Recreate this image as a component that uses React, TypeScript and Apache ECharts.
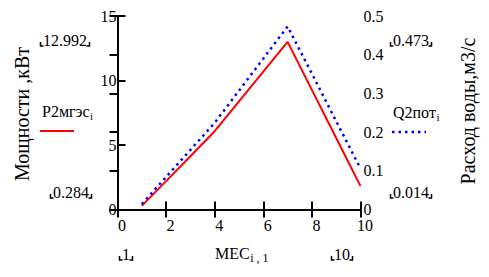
import React, { useEffect, useRef } from "react";
import * as echarts from "echarts";

// Data (month index, power of small HPP in kW, water flow in m3/s)
const MEC = [1, 2, 3, 4, 5, 6, 7, 8, 9, 10];
const P2MGES = [0.284, 2.2, 4.13, 6.07, 8.38, 10.69, 12.992, 9.27, 5.54, 1.81];
const Q2POT = [0.014, 0.084, 0.154, 0.224, 0.307, 0.39, 0.473, 0.351, 0.228, 0.106];

const LEFT_TITLE = "Мощности ,кВт";
const RIGHT_TITLE = "Расход воды,м3/с";
const X_TITLE = "MEC";
const X_SUB = "i , 1";
const P_LABEL = "P2мгэс";
const Q_LABEL = "Q2пот";

const FONT = "Liberation Serif";

function measure(t: string, size: number): number {
  const c = document.createElement("canvas").getContext("2d");
  if (!c) return t.length * size * 0.5;
  c.font = `${size}px "Liberation Serif"`;
  return c.measureText(t).width;
}

function txt(text: string, x: number, y: number, size: number, extra: any = {}): any {
  return {
    type: "text", x, y, ...extra,
    style: { text, fontFamily: FONT, fontSize: size, fill: "#000", align: "left", verticalAlign: "middle", ...(extra.style || {}) },
  };
}

function marker(text: string, left: number, midY: number): any[] {
  const w = measure(text, 16);
  const by = midY + 6;
  const lx = left - 2.5;
  const rx = left + w + 2.5;
  return [
    txt(text, left, midY, 16),
    { type: "polyline", shape: { points: [[lx, by - 4], [lx, by], [lx + 3, by]] }, style: { stroke: "#000", lineWidth: 1.5, fill: null } },
    { type: "polyline", shape: { points: [[rx, by - 4], [rx, by], [rx - 3, by]] }, style: { stroke: "#000", lineWidth: 1.5, fill: null } },
  ];
}

export default function App() {
  const ref = useRef<HTMLDivElement>(null);
  useEffect(() => {
    if (!ref.current) return;
    const chart = echarts.init(ref.current, null, { renderer: "svg" });
    const axisLine = { show: true, lineStyle: { color: "#000", width: 2 } };
    const axisTick = { show: true, inside: true, length: 8, lineStyle: { color: "#000", width: 2 } };
    const labelBase = { color: "#000", fontFamily: FONT, fontSize: 16 };

    const pMax = Math.max(...P2MGES).toFixed(3);
    const pMin = Math.min(...P2MGES).toFixed(3);
    const qMax = Math.max(...Q2POT).toFixed(3);
    const qMin = Math.min(...Q2POT).toFixed(3);
    const xMin = String(Math.min(...MEC));
    const xMax = String(Math.max(...MEC));

    const pW = measure(P_LABEL, 16);
    const qW = measure(Q_LABEL, 16);
    const mW = measure(X_TITLE, 16);

    const graphic: any[] = [
      txt(LEFT_TITLE, 22, 114, 20, { rotation: Math.PI / 2, style: { align: "center" } }),
      txt(RIGHT_TITLE, 468, 111, 20, { rotation: Math.PI / 2, style: { align: "center" } }),
      txt(P_LABEL, 42, 111, 16),
      txt("i", 42 + pW + 0.5, 116, 11),
      { type: "line", shape: { x1: 40, y1: 131, x2: 74, y2: 131 }, style: { stroke: "#ff0000", lineWidth: 2 } },
      txt(Q_LABEL, 393, 112, 16),
      txt("i", 393 + qW + 0.5, 117, 11),
      { type: "line", shape: { x1: 392, y1: 132, x2: 426, y2: 132 }, style: { stroke: "#0000ff", lineWidth: 2.5, lineDash: [2.5, 4] } },
      txt(X_TITLE, 215, 253, 16),
      txt(X_SUB, 215 + mW + 0.5, 258, 12),
      ...marker(pMax, 43, 40),
      ...marker(pMin, 53, 192),
      ...marker(qMax, 393, 40),
      ...marker(qMin, 393, 192),
      ...marker(xMin, 122, 254),
      ...marker(xMax, 334, 254),
    ];

    chart.setOption({
      animation: false,
      backgroundColor: "#fff",
      grid: { left: 117.5, top: 16, width: 243, height: 193.5, containLabel: false },
      xAxis: [
        {
          type: "value", min: 0, max: 10, interval: 2, position: "bottom",
          axisLine, axisTick, splitLine: { show: false },
          axisLabel: { ...labelBase, margin: 8, padding: [0, 0, 0, 9] },
        },
        {
          type: "value", min: 0, max: 10, interval: 2, position: "top",
          axisLine, axisTick, splitLine: { show: false }, axisLabel: { show: false },
        },
      ],
      yAxis: [
        {
          type: "value", min: 0, max: 15, interval: 5, position: "left",
          axisLine, axisTick, splitLine: { show: false },
          axisLabel: { ...labelBase, margin: 1, padding: [8, 0, 0, 0] },
        },
        {
          type: "value", min: 0, max: 0.5, interval: 0.1, position: "right",
          axisLine, axisTick, splitLine: { show: false },
          axisLabel: { ...labelBase, margin: 3, padding: [8, 0, 0, 0] },
        },
      ],
      series: [
        {
          type: "line", xAxisIndex: 0, yAxisIndex: 0, showSymbol: false, symbol: "none",
          data: MEC.map((x, i) => [x, P2MGES[i]]),
          lineStyle: { color: "#ff0000", width: 2 },
        },
        {
          type: "line", xAxisIndex: 0, yAxisIndex: 1, showSymbol: false, symbol: "none",
          data: MEC.map((x, i) => [x, Q2POT[i]]),
          lineStyle: { color: "#0000ff", width: 2.5, type: [2.5, 4] },
        },
      ],
      graphic,
    });
    return () => chart.dispose();
  }, []);
  return (
    <div
      ref={ref}
      style={{ position: "fixed", left: 0, top: 0, width: 489, height: 277, background: "#fff" }}
    />
  );
}
